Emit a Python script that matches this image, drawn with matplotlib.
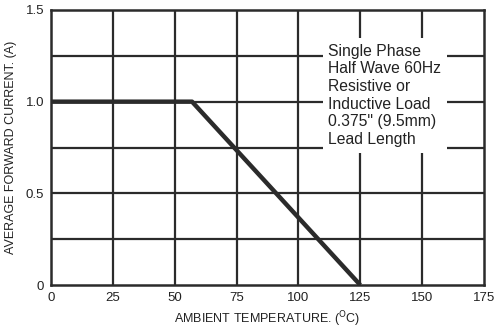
import matplotlib
matplotlib.use("Agg")
import matplotlib.pyplot as plt

plt.rcParams['font.family'] = ['Liberation Sans', 'DejaVu Sans']

# datos de la curva de derating
temp = [0, 57, 125]
corriente = [1.0, 1.0, 0.0]

x_ticks = [0, 25, 50, 75, 100, 125, 150, 175]
y_ticks = [0, 0.5, 1.0, 1.5]
y_tick_labels = ["0", "0.5", "1.0", "1.5"]
y_grid = [0.25, 0.5, 0.75, 1.0, 1.25]

nota = "Single Phase\nHalf Wave 60Hz\nResistive or\nInductive Load\n0.375\" (9.5mm)\nLead Length"

col = "#2b2b2b"

fig = plt.figure(figsize=(4.96, 3.28), dpi=100)
ax = fig.add_axes([51/496, 1 - 285/328, (484-51)/496, (285-10)/328])

for x in x_ticks[1:-1]:
	ax.axvline(x, color=col, lw=1.6, zorder=1)
for y in y_grid:
	ax.axhline(y, color=col, lw=1.6, zorder=1)

ax.plot(temp, corriente, color=col, lw=3.2, solid_capstyle='butt', zorder=3)

ax.set_xlim(0, 175)
ax.set_ylim(0, 1.5)
ax.set_xticks(x_ticks)
ax.set_yticks(y_ticks)
ax.set_yticklabels(y_tick_labels)
ax.tick_params(length=0, labelsize=9.5, colors="#222222", pad=5)
for s in ax.spines.values():
	s.set_color(col)
	s.set_linewidth(1.8)

ax.set_xlabel("AMBIENT TEMPERATURE. ($^{\\rm O}$C)", fontsize=9, color="#222222", labelpad=4)
ax.set_ylabel("AVERAGE FORWARD CURRENT. (A)", fontsize=9, color="#222222", labelpad=6)

ax.text(0.640, 0.877, nota, transform=ax.transAxes, fontsize=11.3, color="#222222",
	va='top', ha='left', linespacing=1.22, zorder=4,
	bbox=dict(facecolor='white', edgecolor='none', pad=4))

plt.savefig("out.png", dpi=100)
